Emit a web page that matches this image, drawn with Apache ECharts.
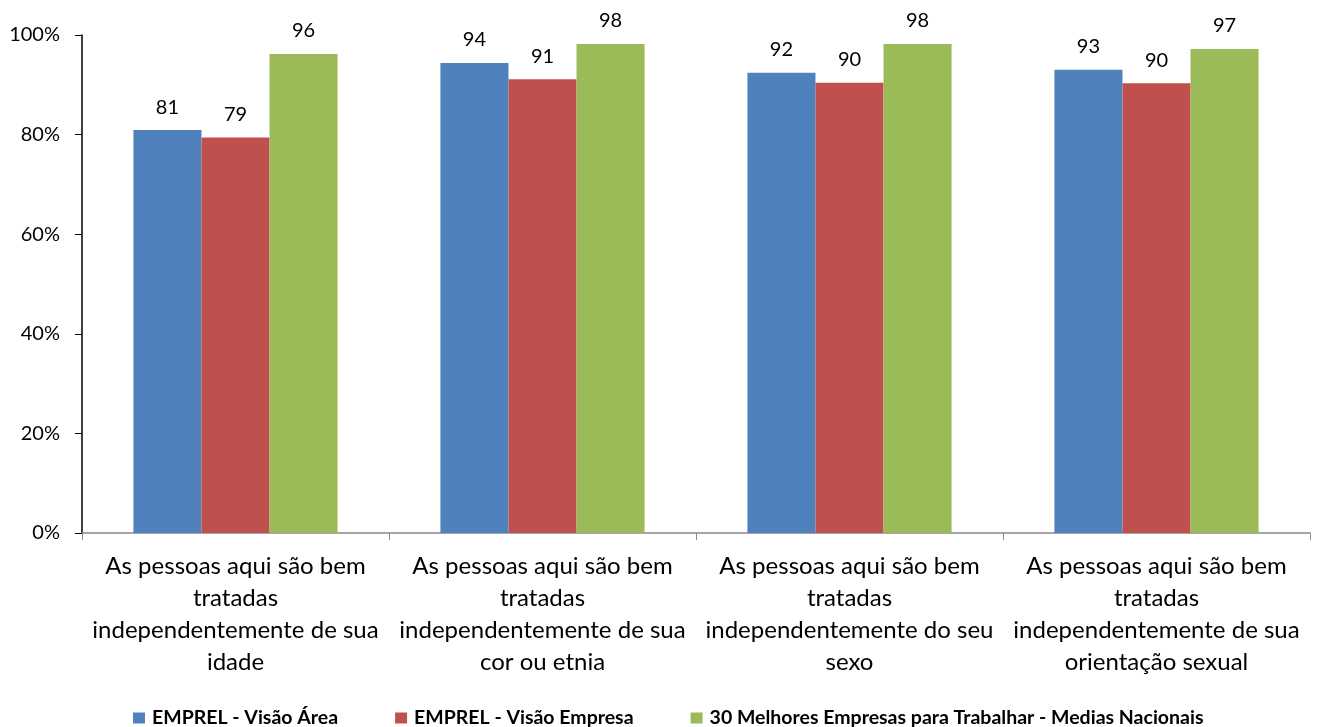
<!DOCTYPE html>
<html><head><meta charset="utf-8">
<script src="https://cdn.jsdelivr.net/npm/echarts@6/dist/echarts.min.js"></script>
<style>html,body{margin:0;padding:0;background:#fff}#c{width:1321px;height:727px}</style>
</head><body><div id="c"></div>
<script>
const categories = [
  "As pessoas aqui são bem\ntratadas\nindependentemente de sua\nidade",
  "As pessoas aqui são bem\ntratadas\nindependentemente de sua\ncor ou etnia",
  "As pessoas aqui são bem\ntratadas\nindependentemente do seu\nsexo",
  "As pessoas aqui são bem\ntratadas\nindependentemente de sua\norientação sexual"
];
const seriesNames = ["EMPREL - Visão Área", "EMPREL - Visão Empresa", "30 Melhores Empresas para Trabalhar - Medias Nacionais"];
const visaoArea = [80.9, 94.4, 92.4, 93.0];
const visaoEmpresa = [79.4, 91.1, 90.4, 90.3];
const melhores = [96.2, 98.2, 98.2, 97.2];
const colors = ["#4F81BD", "#C0504D", "#9BBB59"];
const yTicks = [0, 20, 40, 60, 80, 100];

const font = "Lato, 'Open Sans', sans-serif";
const chart = echarts.init(document.getElementById('c'));
function mk(name, data, color) {
  return {
    name, type: 'bar', data, barGap: '0%', barCategoryGap: '33.5%',
    itemStyle: { color },
    label: { show: true, position: 'top', distance: 13, color: '#000', fontSize: 20, fontFamily: font,
      formatter: p => Math.round(p.value) },
    animation: false
  };
}
chart.setOption({
  animation: false,
  textStyle: { fontFamily: font },
  grid: { left: 82, right: 11, top: 35, bottom: 194 },
  legend: {
    top: 708, left: 133, itemWidth: 12, itemHeight: 11, itemGap: 57, padding: 0,
    icon: 'rect',
    textStyle: { fontSize: 19.5, fontWeight: 'bold', color: '#000', fontFamily: font, padding: [0,0,0,2] },
    data: seriesNames
  },
  xAxis: {
    type: 'category', data: categories,
    axisLine: { lineStyle: { color: '#888', width: 1.5 } },
    axisTick: { show: true, length: 7, lineStyle: { color: '#888' } },
    axisLabel: { color: '#000', fontSize: 24, lineHeight: 32, margin: 17, interval: 0, fontFamily: font }
  },
  yAxis: {
    type: 'value', min: 0, max: 100, interval: 20,
    splitLine: { show: false },
    axisLine: { show: true, lineStyle: { color: '#000', width: 1.5 } },
    axisTick: { show: true, length: 7, lineStyle: { color: '#000' } },
    axisLabel: { color: '#000', fontSize: 20, margin: 22, fontFamily: font,
      formatter: v => yTicks.includes(v) ? v + '%' : '' }
  },
  series: [mk(seriesNames[0], visaoArea, colors[0]), mk(seriesNames[1], visaoEmpresa, colors[1]), mk(seriesNames[2], melhores, colors[2])]
});
</script></body></html>
